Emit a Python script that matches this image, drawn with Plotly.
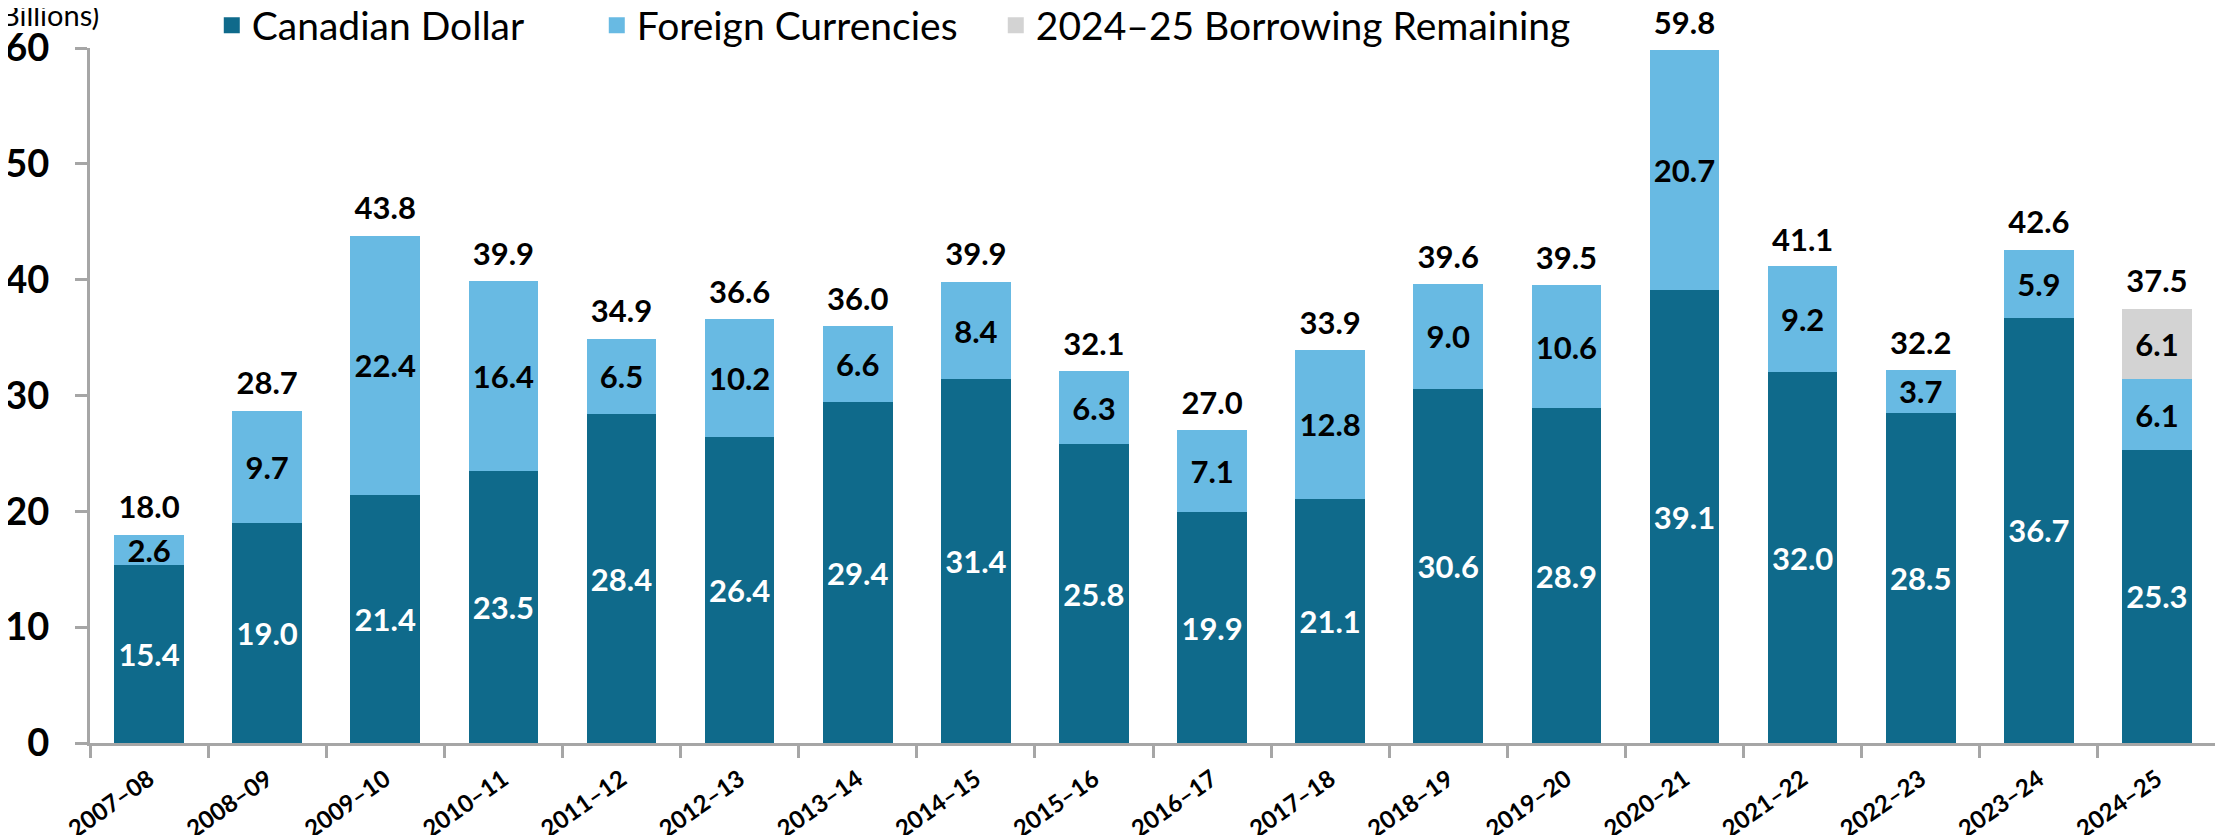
import plotly.graph_objects as go

years = ["2007–08", "2008–09", "2009–10", "2010–11", "2011–12", "2012–13", "2013–14",
         "2014–15", "2015–16", "2016–17", "2017–18", "2018–19", "2019–20", "2020–21",
         "2021–22", "2022–23", "2023–24", "2024–25"]
cad = [15.4, 19.0, 21.4, 23.5, 28.4, 26.4, 29.4, 31.4, 25.8, 19.9, 21.1, 30.6, 28.9, 39.1,
       32.0, 28.5, 36.7, 25.3]
foreign = [2.6, 9.7, 22.4, 16.4, 6.5, 10.2, 6.6, 8.4, 6.3, 7.1, 12.8, 9.0, 10.6, 20.7,
           9.2, 3.7, 5.9, 6.1]
remaining = [None] * 17 + [6.1]
totals = [18.0, 28.7, 43.8, 39.9, 34.9, 36.6, 36.0, 39.9, 32.1, 27.0, 33.9, 39.6, 39.5, 59.8,
          41.1, 32.2, 42.6, 37.5]
series_names = ["Canadian Dollar", "Foreign Currencies", "2024–25 Borrowing Remaining"]

FONT = "Lato"
C_CAD = "#0F6A8B"
C_FOR = "#68BAE3"
C_REM = "#D3D3D3"
colors = [C_CAD, C_FOR, C_REM]
label_colors = ["white", "black", "black"]
legend_widths = [340, 354, None]
LBL = 31

fig = go.Figure()
for name, vals, col, lcol in zip(series_names, [cad, foreign, remaining], colors, label_colors):
    fig.add_trace(go.Bar(
        x=years, y=vals, name=name, legendgroup=name, showlegend=False,
        marker=dict(color=col, line=dict(width=0)),
        text=[f"{v:.1f}" if v is not None else "" for v in vals],
        textposition="inside", insidetextanchor="middle",
        textfont=dict(family=FONT, size=LBL, color=lcol, weight="bold"),
    ))

fig.add_trace(go.Scatter(
    x=years, y=totals, mode="markers+text", text=[f"{v:.1f}" for v in totals],
    textposition="top center", showlegend=False, hoverinfo="skip",
    marker=dict(size=12, color="rgba(0,0,0,0)"),
    textfont=dict(family=FONT, size=LBL, color="black", weight="bold"),
    cliponaxis=False,
))

# legend entries with square swatches
for name, col, lw in zip(series_names, colors, legend_widths):
    kw = {} if lw is None else {"legendwidth": lw}
    fig.add_trace(go.Scatter(
        x=[None], y=[None], mode="markers", name=name, legendgroup=name,
        marker=dict(symbol="square", size=20, color=col), hoverinfo="skip", **kw,
    ))

fig.update_layout(
    barmode="stack",
    bargap=0.41,
    width=2215, height=827,
    margin=dict(l=82, r=7, t=40, b=92, autoexpand=False),
    plot_bgcolor="white", paper_bgcolor="white",
    uniformtext=dict(mode="show", minsize=LBL),
    legend=dict(orientation="h", xref="container", yref="container",
                x=0.092, y=0.979, xanchor="left", yanchor="middle",
                font=dict(family=FONT, size=39, color="black"),
                tracegroupgap=0, traceorder="normal", itemwidth=30, itemsizing="trace"),
    xaxis=dict(
        type="category", range=[-0.5, len(years) - 0.5],
        showline=True, linecolor="#A6A6A6", linewidth=3,
        ticks="outside", tickson="boundaries", ticklen=12, tickcolor="#A6A6A6", tickwidth=3,
        tickangle=-35, ticklabelstandoff=10,
        tickfont=dict(family=FONT, size=24, color="black", weight="bold"),
        showgrid=False, automargin=False,
    ),
    yaxis=dict(
        range=[0, 60], dtick=10, showline=True, linecolor="#A6A6A6", linewidth=3,
        ticks="outside", ticklen=12, tickcolor="#A6A6A6", tickwidth=3, ticklabelstandoff=18,
        tickfont=dict(family=FONT, size=38, color="black", weight="bold"),
        showgrid=False, zeroline=False, automargin=False,
    ),
    annotations=[dict(
        text="($ Billions)", xref="paper", yref="paper", x=0.005, y=1.02,
        xanchor="right", yanchor="bottom", showarrow=False,
        font=dict(family=FONT, size=29, color="black"),
    )],
)

fig.write_html("out.html")
